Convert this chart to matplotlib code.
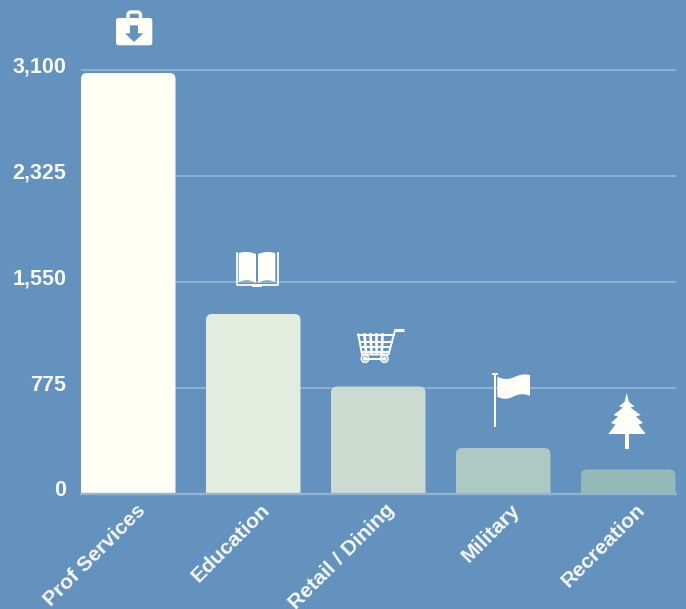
import matplotlib
matplotlib.use('Agg')
import matplotlib.pyplot as plt
from matplotlib.patches import FancyBboxPatch, Polygon, Circle, PathPatch, Rectangle
from matplotlib.path import Path
from matplotlib.transforms import ScaledTranslation

plt.rcParams['font.family'] = ['Liberation Sans', 'DejaVu Sans']

categories = ['Prof Services', 'Education', 'Retail / Dining', 'Military', 'Recreation']
values = [3078, 1314, 783, 333, 176]
bar_colors = ['#fffff5', '#e3eddf', '#cbdbd0', '#aec9c3', '#95b8b8']
y_ticks = [0, 775, 1550, 2325, 3100]
y_labels = ['0', '775', '1,550', '2,325', '3,100']

bg = '#6392bf'
grid = '#8fb0d1'
white = '#fffff8'
text_col = '#f7f8f5'

W, H = 686, 609
fig = plt.figure(figsize=(W / 100, H / 100), dpi=100, facecolor=bg)

# axes placed in reference pixels: bars span 81..676, y=0 at 493.5, y=3100 at 70
px_per_unit = 423.5 / 3100
top_px = 60
ax = fig.add_axes([81 / W, (H - 493.5) / H, 595 / W, (493.5 - top_px) / H], facecolor=bg)
bar_w = 94.5 / 125
ax.set_xlim(-95 / 125 / 2, 4 + 95 / 125 / 2)
ax.set_ylim(0, (493.5 - top_px) / px_per_unit)

for i, (v, c) in enumerate(zip(values, bar_colors)):
    # bottom corners hang under the axis and get clipped, only the top is round
    box = FancyBboxPatch((i - 95 / 125 / 2, -60), bar_w, v + 60,
                         boxstyle='round,pad=0,rounding_size=%f' % (6 / 125),
                         mutation_aspect=125 / px_per_unit,
                         fc=c, ec='none', zorder=3)
    ax.add_patch(box)

ax.set_yticks(y_ticks)
ax.set_yticklabels(y_labels)
ax.set_xticks(range(5))
ax.set_xticklabels(categories, rotation=45, ha='right', rotation_mode='anchor')
ax.tick_params(length=0)
ax.tick_params(axis='y', pad=10.5, labelsize=15.5, labelcolor=text_col)
ax.tick_params(axis='x', pad=5, labelsize=15.2, labelcolor=text_col)
for lab in ax.get_yticklabels():
    lab.set_fontweight('bold')
    lab.set_transform(lab.get_transform() + ScaledTranslation(0, 5 / 100, fig.dpi_scale_trans))
for lab in ax.get_xticklabels():
    lab.set_fontweight('bold')
    lab.set_transform(lab.get_transform() + ScaledTranslation(7 / 100, 0, fig.dpi_scale_trans))

ax.grid(axis='y', color=grid, lw=1.4, zorder=1)
ax.set_axisbelow(True)
for name, s in ax.spines.items():
    s.set_visible(False)
ax.axhline(0, color='#93b3d0', lw=1.7, zorder=4, clip_on=False)

# icons, drawn on an overlay in reference pixel coordinates
ov = fig.add_axes([0, 0, 1, 1], facecolor='none')
ov.set_xlim(0, W)
ov.set_ylim(H, 0)
ov.axis('off')


def curve(points, **kw):
    # first point is a moveto, the rest come in control/end pairs
    codes = [Path.MOVETO] + [Path.CURVE3] * (len(points) - 1)
    ov.add_patch(PathPatch(Path(points, codes), **kw))


# briefcase
ov.add_patch(FancyBboxPatch((128, 12), 12.5, 12, boxstyle='round,pad=0,rounding_size=3',
                            fc='none', ec=white, lw=2.4))
ov.add_patch(FancyBboxPatch((116, 18), 36.3, 27.3, boxstyle='round,pad=0,rounding_size=2.5',
                            fc=white, ec='none'))
ov.add_patch(Polygon([(130, 25.3), (138, 25.3), (138, 33.3), (143.3, 33.3), (134, 42),
                      (125, 33.3), (130, 33.3)], fc=bg, ec='none'))

# book
ov.plot([236.5, 236.5, 277.5, 277.5], [252.5, 284.5, 284.5, 252.5], color=white, lw=1.3)
ov.add_patch(Rectangle((252.3, 284.3), 9.4, 2.4, fc=white, ec='none'))
curve([(238.7, 253), (248, 250.5), (256, 254), (256, 268), (256, 283),
       (248, 278), (238.7, 282), (238.7, 268), (238.7, 253)], fc=white, ec='none')
curve([(275.3, 253), (266, 250.5), (258, 254), (258, 268), (258, 283),
       (266, 278), (275.3, 282), (275.3, 268), (275.3, 253)], fc=white, ec='none')

# cart
ov.plot([404, 395], [330.3, 330.3], color=white, lw=2.2, solid_capstyle='butt')
ov.plot([395, 388.5, 362], [330.3, 354.5, 354.5], color=white, lw=1.4)
ov.plot([358.3, 362], [334.5, 354.5], color=white, lw=1.4)
for y, (x0, x1) in zip([334.8, 341.7, 347.3, 352.3],
                       [(358.3, 394), (359.5, 392), (360.5, 390.3), (361.5, 389)]):
    ov.plot([x0, x1], [y, y], color=white, lw=1.4)
for x0, x1 in [(364.5, 366), (370.5, 371.5), (376.5, 376.7), (382.5, 381.8)]:
    ov.plot([x0, x1], [334.5, 352.5], color=white, lw=1.9)
ov.plot([365, 384.3], [358.7, 358.7], color=white, lw=1.4)
for x in (365, 384.3):
    ov.add_patch(Circle((x, 358.7), 3.7, fc=bg, ec=white, lw=1.1))
    ov.add_patch(Circle((x, 358.7), 2.2, fc=white, ec='none'))

# flag
ov.add_patch(Rectangle((494.2, 374), 1.8, 53, fc=white, ec='none'))
ov.add_patch(Rectangle((492.3, 373), 5.4, 2, fc=white, ec='none'))
curve([(497.3, 376.7), (506, 381), (513.5, 377.5), (522, 373), (530, 375),
       (530, 385.5), (530, 396), (522, 392), (513.5, 396.5), (505, 401), (497.3, 396.7),
       (497.3, 386), (497.3, 376.7)], fc=white, ec='none')

# tree
tree = [(626.7, 393), (629, 402), (634.5, 406.5), (630.5, 407.5), (640.5, 415), (636, 416.5),
        (643, 423), (638.5, 424.5), (645.7, 434), (608.3, 434), (615.5, 424.5), (611, 423),
        (618, 416.5), (613.5, 415), (623, 407.5), (619, 406.5), (624.5, 402)]
ov.add_patch(Polygon(tree, fc=white, ec='none'))
ov.add_patch(Rectangle((625.3, 434), 3.4, 14.5, fc=white, ec='none'))

fig.savefig('out.png', dpi=100, facecolor=bg)
